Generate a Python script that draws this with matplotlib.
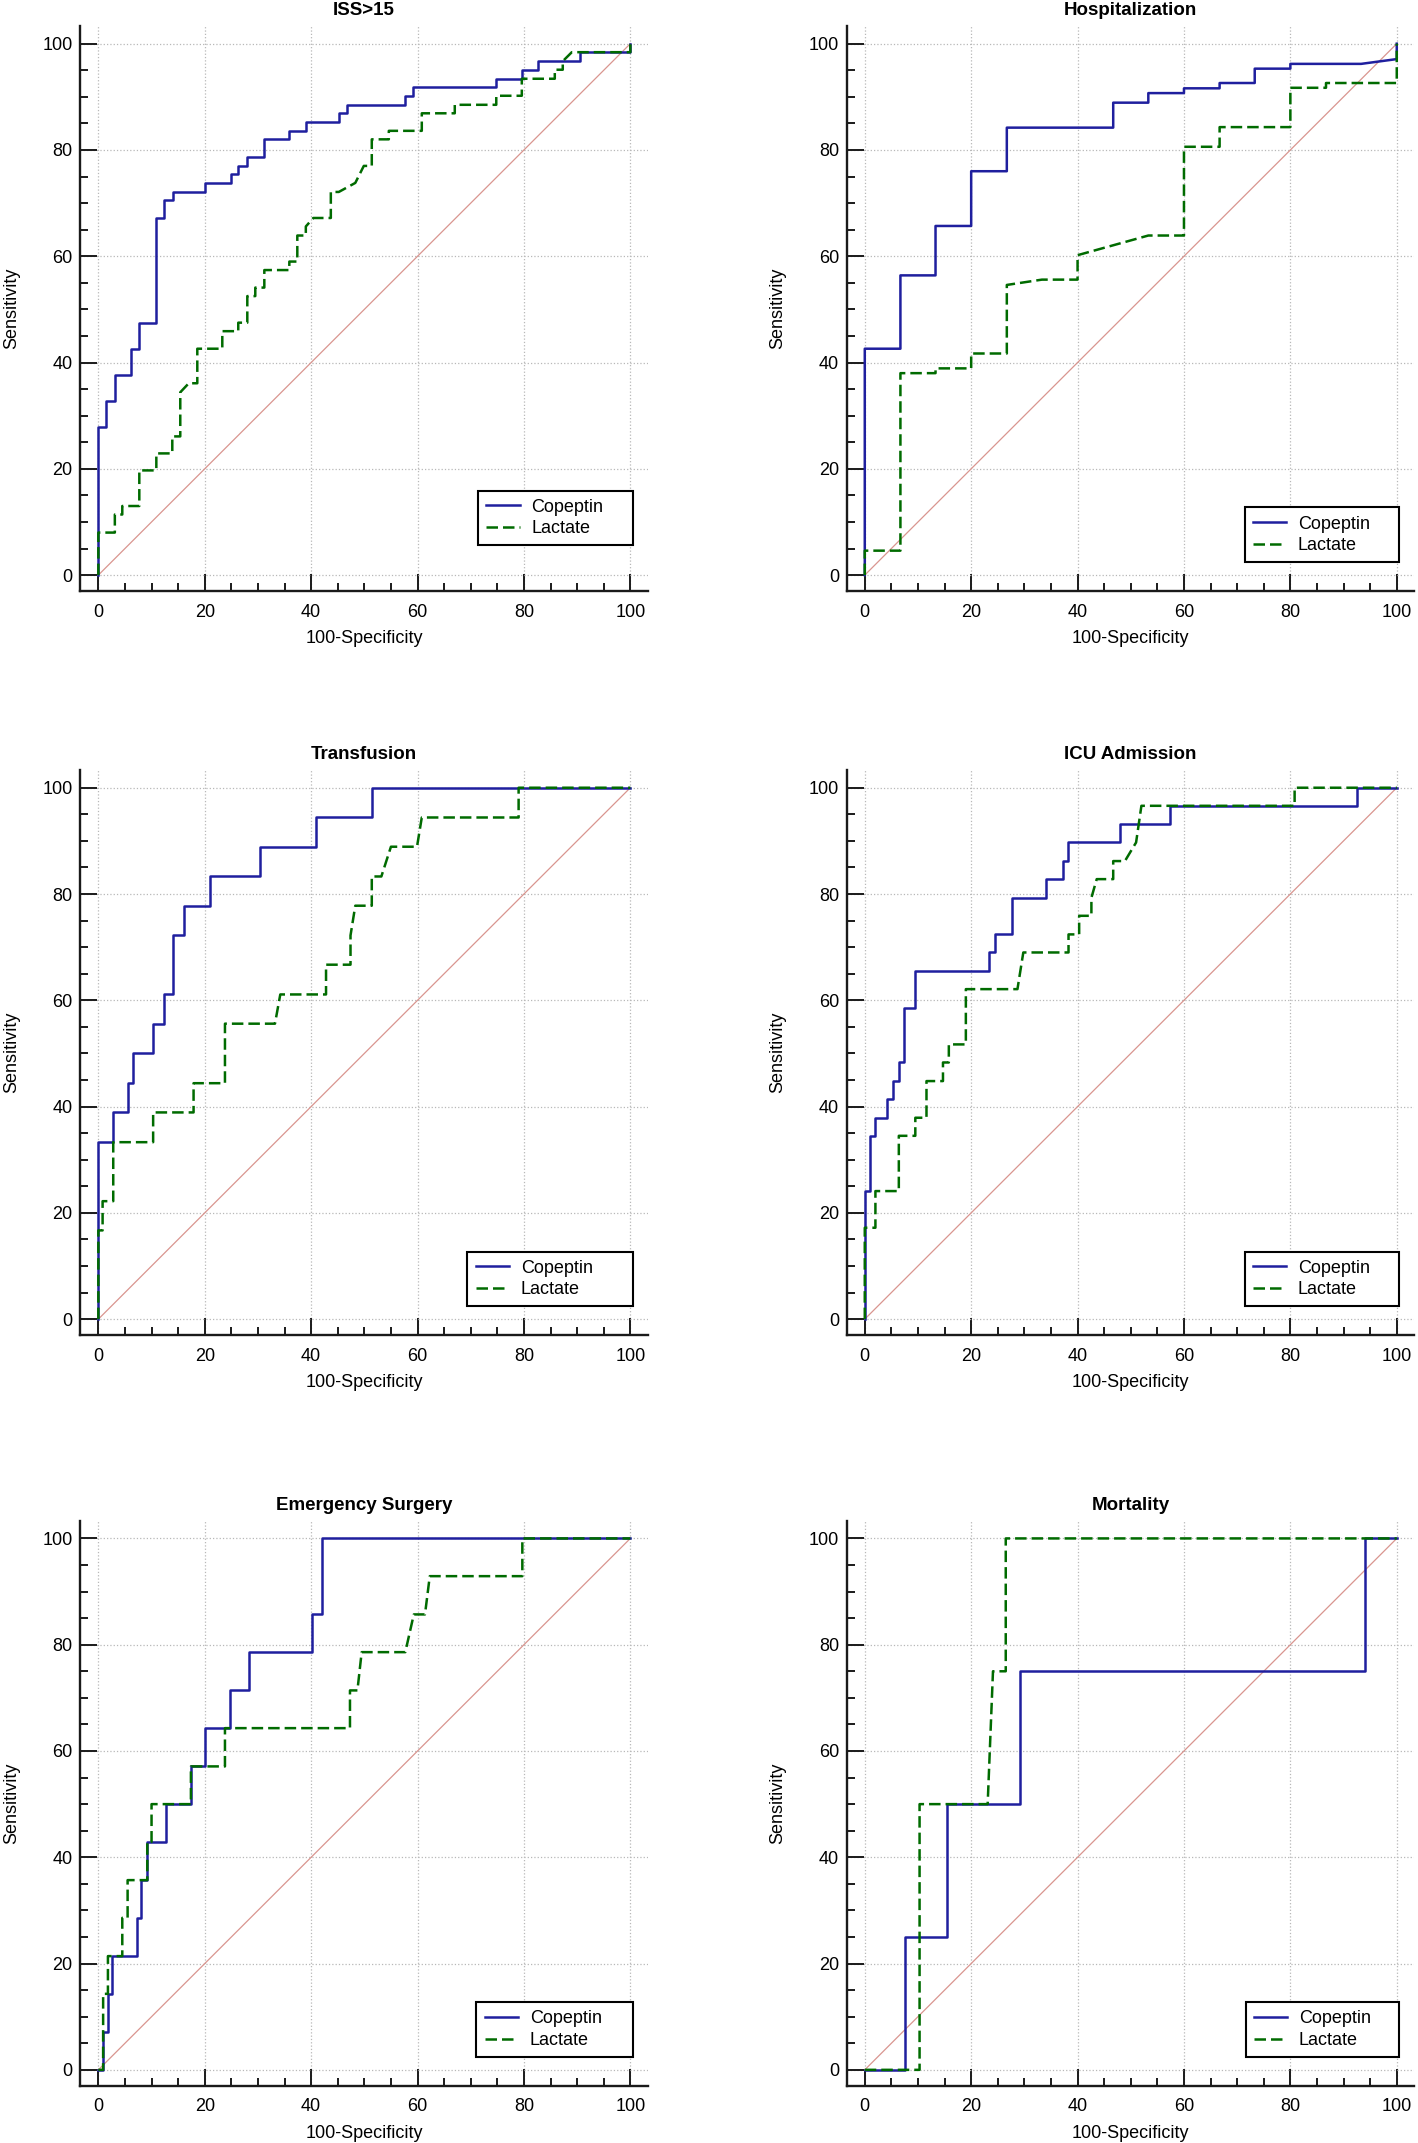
import matplotlib
matplotlib.use("Agg")
import matplotlib.pyplot as plt
from matplotlib.ticker import MultipleLocator

plt.rcParams['font.family'] = ['Liberation Sans', 'DejaVu Sans']

# ROC points (100-Specificity, Sensitivity)
iss_cop_x = [0, 0, 1.5, 1.5, 3.1, 3.1, 6.1, 6.1, 7.7, 7.7, 10.9, 10.9, 12.4, 12.4, 14.1, 14.1,
             20.1, 20.1, 24.9, 24.9, 26.3, 26.3, 28.0, 28.0, 31.2, 31.2, 35.9, 35.9, 39.0, 39.0,
             45.2, 45.2, 46.8, 46.8, 57.7, 57.7, 59.2, 59.2, 74.8, 74.8, 79.6, 79.6, 82.7, 82.7,
             90.6, 90.6, 100, 100]
iss_cop_y = [0, 27.9, 27.9, 32.8, 32.8, 37.7, 37.7, 42.6, 42.6, 47.5, 47.5, 67.2, 67.2, 70.5, 70.5, 72.1,
             72.1, 73.8, 73.8, 75.4, 75.4, 77.0, 77.0, 78.7, 78.7, 82.0, 82.0, 83.6, 83.6, 85.2,
             85.2, 86.9, 86.9, 88.5, 88.5, 90.2, 90.2, 91.8, 91.8, 93.4, 93.4, 95.1, 95.1, 96.7,
             96.7, 98.4, 98.4, 100]
iss_lac_x = [0, 0, 3.1, 3.1, 4.5, 4.5, 7.7, 7.7, 10.9, 10.9, 13.9, 13.9, 15.4, 15.4, 17.0, 18.6, 18.6,
             23.3, 23.3, 26.3, 26.3, 28.0, 28.0, 29.5, 29.5, 31.2, 31.2, 35.9, 35.9, 37.4, 37.4,
             39.0, 39.0, 40.4, 43.7, 43.7, 45.2, 48.3, 49.9, 51.4, 51.4, 54.6, 54.6, 60.8, 60.8,
             67.0, 67.0, 74.8, 74.8, 79.6, 79.6, 85.8, 85.8, 87.3, 87.3, 89.0, 100, 100]
iss_lac_y = [0, 8.0, 8.0, 11.4, 11.4, 13.0, 13.0, 19.7, 19.7, 22.9, 22.9, 26.1, 26.1, 34.4, 36.1, 36.1, 42.6,
             42.6, 45.9, 45.9, 47.5, 47.5, 52.5, 52.5, 54.1, 54.1, 57.4, 57.4, 59.0, 59.0, 63.9,
             63.9, 65.6, 67.2, 67.2, 72.1, 72.1, 73.8, 77.0, 77.0, 82.0, 82.0, 83.6, 83.6, 86.9,
             86.9, 88.5, 88.5, 90.2, 90.2, 93.4, 93.4, 95.1, 95.1, 96.7, 98.4, 98.4, 100]

hosp_cop_x = [0, 0, 6.7, 6.7, 13.3, 13.3, 20.0, 20.0, 26.7, 26.7, 46.7, 46.7, 53.3, 53.3, 60.0, 60.0,
              66.7, 66.7, 73.3, 73.3, 80.0, 80.0, 93.3, 100, 100]
hosp_cop_y = [0, 42.6, 42.6, 56.4, 56.4, 65.7, 65.7, 76.0, 76.0, 84.2, 84.2, 88.9, 88.9, 90.7, 90.7, 91.6,
              91.6, 92.6, 92.6, 95.3, 95.3, 96.2, 96.2, 97.1, 100]
hosp_lac_x = [0, 0, 6.7, 6.7, 13.3, 13.3, 20.0, 20.0, 26.7, 26.7, 33.3, 40.0, 40.0, 53.3, 60.0, 60.0,
              66.7, 66.7, 80.0, 80.0, 86.7, 86.7, 100, 100]
hosp_lac_y = [0, 4.6, 4.6, 38.0, 38.0, 38.9, 38.9, 41.7, 41.7, 54.6, 55.6, 55.6, 60.2, 63.9, 63.9, 80.6,
              80.6, 84.3, 84.3, 91.7, 91.7, 92.6, 92.6, 100]

tran_cop_x = [0, 0, 2.8, 2.8, 5.6, 5.6, 6.6, 6.6, 10.3, 10.3, 12.3, 12.3, 14.1, 14.1, 16.1, 16.1,
              20.9, 20.9, 30.4, 30.4, 40.9, 40.9, 51.4, 51.4, 100]
tran_cop_y = [0, 33.3, 33.3, 38.9, 38.9, 44.4, 44.4, 50.0, 50.0, 55.6, 55.6, 61.1, 61.1, 72.2, 72.2, 77.8,
              77.8, 83.3, 83.3, 88.9, 88.9, 94.4, 94.4, 100, 100]
tran_lac_x = [0, 0, 0.8, 0.8, 2.8, 2.8, 10.3, 10.3, 17.9, 17.9, 23.8, 23.8, 33.2, 34.2, 42.8, 42.8,
              47.4, 47.4, 48.3, 51.4, 51.4, 53.2, 55.0, 59.9, 60.8, 79.0, 79.0, 100]
tran_lac_y = [0, 16.7, 16.7, 22.2, 22.2, 33.3, 33.3, 38.9, 38.9, 44.4, 44.4, 55.6, 55.6, 61.1, 61.1, 66.7,
              66.7, 72.2, 77.8, 77.8, 83.3, 83.3, 88.9, 88.9, 94.4, 94.4, 100, 100]

icu_cop_x = [0, 0, 0.9, 0.9, 2.0, 2.0, 4.1, 4.1, 5.3, 5.3, 6.4, 6.4, 7.4, 7.4, 9.5, 9.5, 23.3, 23.3,
             24.4, 24.4, 27.6, 27.6, 34.1, 34.1, 37.2, 37.2, 38.2, 38.2, 47.9, 47.9, 57.4, 57.4,
             92.5, 92.5, 100]
icu_cop_y = [0, 24.1, 24.1, 34.5, 34.5, 37.9, 37.9, 41.4, 41.4, 44.8, 44.8, 48.3, 48.3, 58.6, 58.6, 65.5,
             65.5, 69.0, 69.0, 72.4, 72.4, 79.3, 79.3, 82.8, 82.8, 86.2, 86.2, 89.7, 89.7, 93.1,
             93.1, 96.6, 96.6, 100, 100]
icu_lac_x = [0, 0, 2.0, 2.0, 6.4, 6.4, 9.5, 9.5, 11.6, 11.6, 14.7, 14.7, 15.8, 15.8, 19.0, 19.0, 28.7,
             29.8, 38.3, 38.3, 40.3, 40.3, 42.6, 42.6, 43.6, 46.7, 46.7, 48.9, 51.0, 52.0, 80.8,
             80.8, 100]
icu_lac_y = [0, 17.2, 17.2, 24.1, 24.1, 34.5, 34.5, 37.9, 37.9, 44.8, 44.8, 48.3, 48.3, 51.7, 51.7, 62.1,
             62.1, 69.0, 69.0, 72.4, 72.4, 75.9, 75.9, 79.3, 82.8, 82.8, 86.2, 86.2, 89.7, 96.6,
             96.6, 100, 100]

surg_cop_x = [0, 0.8, 0.8, 1.8, 1.8, 2.6, 2.6, 7.3, 7.3, 8.1, 8.1, 9.2, 9.2, 12.8, 12.8, 17.4, 17.4,
              20.1, 20.1, 24.7, 24.7, 28.4, 28.4, 40.2, 40.2, 42.1, 42.1, 100]
surg_cop_y = [0, 0, 7.1, 7.1, 14.3, 14.3, 21.4, 21.4, 28.6, 28.6, 35.7, 35.7, 42.9, 42.9, 50.0, 50.0,
              57.1, 57.1, 64.3, 64.3, 71.4, 71.4, 78.6, 78.6, 85.7, 85.7, 100, 100]
surg_lac_x = [0, 0.9, 0.9, 1.8, 1.8, 4.5, 4.5, 5.5, 5.5, 9.2, 9.2, 10.0, 10.0, 17.4, 17.4, 23.8, 23.8,
              47.3, 47.3, 48.7, 49.5, 57.7, 59.3, 61.4, 62.3, 79.7, 79.7, 100]
surg_lac_y = [0, 0, 14.3, 14.3, 21.4, 21.4, 28.6, 28.6, 35.7, 35.7, 42.9, 42.9, 50.0, 50.0, 57.1, 57.1,
              64.3, 64.3, 71.4, 71.4, 78.6, 78.6, 85.7, 85.7, 92.9, 92.9, 100, 100]

mort_cop_x = [0, 7.6, 7.6, 15.4, 15.4, 29.1, 29.1, 94.0, 94.0, 100]
mort_cop_y = [0, 0, 25, 25, 50, 50, 75, 75, 100, 100]
mort_lac_x = [0, 10.3, 10.3, 23.1, 24.1, 26.5, 26.5, 100]
mort_lac_y = [0, 0, 50, 50, 75, 75, 100, 100]

titles = ["ISS>15", "Hospitalization", "Transfusion", "ICU Admission",
          "Emergency Surgery", "Mortality"]
copeptin = [(iss_cop_x, iss_cop_y), (hosp_cop_x, hosp_cop_y), (tran_cop_x, tran_cop_y),
            (icu_cop_x, icu_cop_y), (surg_cop_x, surg_cop_y), (mort_cop_x, mort_cop_y)]
lactate = [(iss_lac_x, iss_lac_y), (hosp_lac_x, hosp_lac_y), (tran_lac_x, tran_lac_y),
           (icu_lac_x, icu_lac_y), (surg_lac_x, surg_lac_y), (mort_lac_x, mort_lac_y)]

fig = plt.figure(figsize=(14.18, 21.43), dpi=100)

col_left = [0.0566, 0.5971]
row_bottom = [0.7242, 0.3770, 0.0267]
ax_w, ax_h = 0.4003, 0.2636
# legend boxes (axes fractions): bottom edge and width per panel
leg_y = [0.081, 0.051, 0.051, 0.051, 0.051, 0.051]
leg_w = [0.272, 0.272, 0.291, 0.272, 0.275, 0.270]

for i, title in enumerate(titles):
    r, c = divmod(i, 2)
    ax = fig.add_axes([col_left[c], row_bottom[r], ax_w, ax_h])
    ax.set_xlim(-3.4, 103.3)
    ax.set_ylim(-3.0, 103.3)

    ax.grid(True, which='major', linestyle=':', color='#b8b8b8', linewidth=0.9, zorder=0)
    ax.plot([0, 100], [0, 100], color='#d9958f', linewidth=0.9, zorder=2)
    cx, cy = copeptin[i]
    lx, ly = lactate[i]
    ax.plot(cx, cy, color='#1f1f9e', linewidth=1.8, label='Copeptin', zorder=3)
    ax.plot(lx, ly, color='#006b00', linewidth=1.8, linestyle=(0, (4.6, 2.0)),
            label='Lactate', zorder=4)

    for s in ['top', 'right']:
        ax.spines[s].set_visible(False)
    for s in ['left', 'bottom']:
        ax.spines[s].set_linewidth(1.7)
        ax.spines[s].set_color('#1a1a1a')

    ax.xaxis.set_major_locator(MultipleLocator(20))
    ax.yaxis.set_major_locator(MultipleLocator(20))
    ax.xaxis.set_minor_locator(MultipleLocator(5))
    ax.yaxis.set_minor_locator(MultipleLocator(5))
    ax.tick_params(which='major', direction='in', length=12.5, width=1.4,
                   color='#1a1a1a', labelsize=13, pad=5.5)
    ax.tick_params(axis='x', which='major', pad=9)
    ax.tick_params(which='minor', direction='in', length=5.8, width=1.4, color='#1a1a1a')

    ax.set_title(title, fontsize=13.5, fontweight='bold', pad=8)
    ax.set_xlabel('100-Specificity', fontsize=13, labelpad=7)
    ax.set_ylabel('Sensitivity', fontsize=13, labelpad=16)

    x0 = 0.973 - leg_w[i]
    leg = ax.legend(loc='lower left', bbox_to_anchor=(x0, leg_y[i], leg_w[i], 0.1),
                    mode='expand', fontsize=13, fancybox=False, framealpha=1,
                    borderaxespad=0, borderpad=0.45, handlelength=1.85,
                    handletextpad=0.65, labelspacing=0.25)
    leg.get_frame().set_edgecolor('black')
    leg.get_frame().set_linewidth(1.5)

fig.savefig('out.png', dpi=100)
